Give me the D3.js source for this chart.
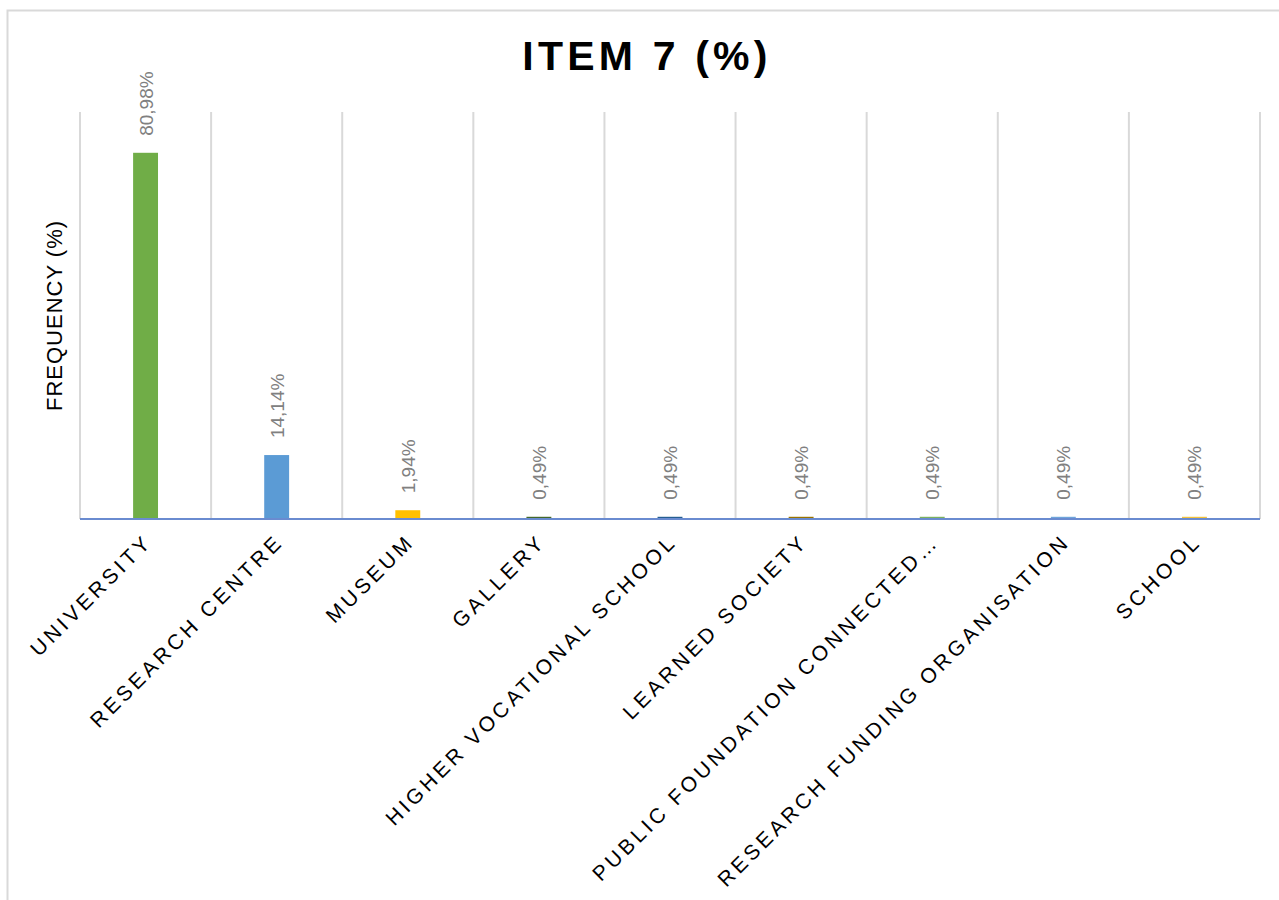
<!DOCTYPE html>
<html>
<head>
<meta charset="utf-8">
<script src="https://cdn.jsdelivr.net/npm/d3@7"></script>
<style>
  html, body { margin: 0; padding: 0; background: #fff; }
  svg { display: block; font-family: "Liberation Sans", Arial, sans-serif; }
</style>
</head>
<body>
<svg id="chart" width="1279" height="900"></svg>
<script>
// Institution types and their share of responses (%)
const categories = [
  "UNIVERSITY",
  "RESEARCH CENTRE",
  "MUSEUM",
  "GALLERY",
  "HIGHER VOCATIONAL SCHOOL",
  "LEARNED SOCIETY",
  "PUBLIC FOUNDATION CONNECTED…",
  "RESEARCH FUNDING ORGANISATION",
  "SCHOOL"
];
const values = [80.98, 14.14, 1.94, 0.49, 0.49, 0.49, 0.49, 0.49, 0.49];
const valueLabels = ["80,98%", "14,14%", "1,94%", "0,49%", "0,49%", "0,49%", "0,49%", "0,49%", "0,49%"];
const barColors = ["#70AD47", "#5B9BD5", "#FFC000", "#43682B", "#255E91", "#997300", "#7BB160", "#6FA5DA", "#F2C23C"];
const yDomain = [0, 90];

const svg = d3.select("#chart");

// outer chart frame
svg.append("rect")
  .attr("x", 7.5).attr("y", 10.5)
  .attr("width", 1290).attr("height", 910)
  .attr("fill", "#fff")
  .attr("stroke", "#d9d9d9")
  .attr("stroke-width", 2);

const plot = { left: 80, right: 1260, top: 112, bottom: 519 };

const x = d3.scaleBand()
  .domain(categories)
  .range([plot.left, plot.right])
  .paddingInner(0).paddingOuter(0);

const y = d3.scaleLinear()
  .domain(yDomain)
  .range([plot.bottom, plot.top]);

// vertical gridlines on category boundaries
const boundaries = categories.map(c => x(c)).concat([x(categories[categories.length - 1]) + x.bandwidth()]);
svg.append("g")
  .selectAll("line")
  .data(boundaries)
  .join("line")
  .attr("x1", d => d).attr("x2", d => d)
  .attr("y1", plot.top).attr("y2", plot.bottom)
  .attr("stroke", "#d9d9d9")
  .attr("stroke-width", 2);

// bars
const barW = x.bandwidth() * 0.19;
svg.append("g")
  .selectAll("rect")
  .data(values)
  .join("rect")
  .attr("x", (d, i) => x(categories[i]) + x.bandwidth() / 2 - barW / 2)
  .attr("y", d => y(d))
  .attr("width", barW)
  .attr("height", d => y(0) - y(d))
  .attr("fill", (d, i) => barColors[i]);

// category axis line
svg.append("line")
  .attr("x1", plot.left).attr("x2", plot.right)
  .attr("y1", y(0)).attr("y2", y(0))
  .attr("stroke", "#6A8BD0")
  .attr("stroke-width", 2);

// value labels above bars
svg.append("g")
  .selectAll("text")
  .data(values)
  .join("text")
  .attr("transform", (d, i) => `translate(${x(categories[i]) + x.bandwidth() / 2 + 7},${y(d) - 17}) rotate(-90)`)
  .attr("text-anchor", "start")
  .attr("fill", "#808080")
  .attr("font-size", 19)
  .text((d, i) => valueLabels[i]);

// category labels, rotated
svg.append("g")
  .selectAll("text")
  .data(categories)
  .join("text")
  .attr("transform", d => `translate(${x(d) + x.bandwidth() / 2 + 8},${plot.bottom + 24}) rotate(-45)`)
  .attr("text-anchor", "end")
  .attr("fill", "#000")
  .attr("font-size", 21)
  .attr("letter-spacing", 3.6)
  .text(d => d);

// y axis title
svg.append("text")
  .attr("transform", `translate(62,${(plot.top + plot.bottom) / 2}) rotate(-90)`)
  .attr("text-anchor", "middle")
  .attr("fill", "#000")
  .attr("font-size", 22)
  .attr("letter-spacing", 1)
  .text("FREQUENCY (%)");

// chart title
svg.append("text")
  .attr("x", 647)
  .attr("y", 70)
  .attr("text-anchor", "middle")
  .attr("font-weight", "bold")
  .attr("font-size", 41)
  .attr("letter-spacing", 4.2)
  .attr("fill", "#000")
  .text("ITEM 7 (%)");
</script>
</body>
</html>
